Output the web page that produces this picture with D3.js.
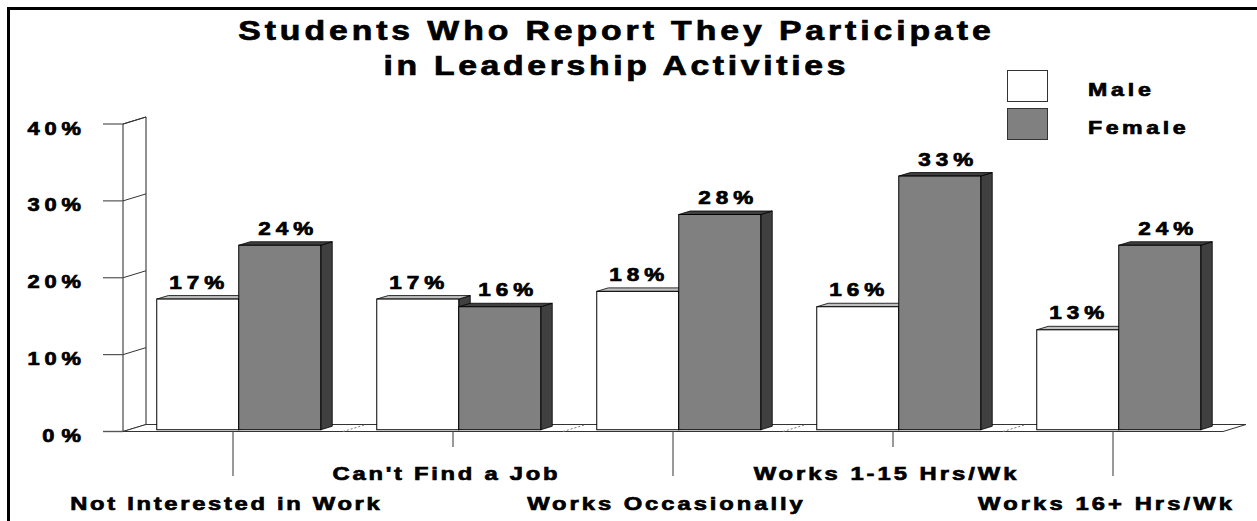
<!DOCTYPE html>
<html>
<head>
<meta charset="utf-8">
<script src="https://cdn.jsdelivr.net/npm/d3@7"></script>
<style>
  body { margin: 0; background: #fff; }
  svg text { font-family: "Liberation Sans", Arial, sans-serif; font-weight: bold; fill: #000; stroke: #000; stroke-width: 0.7; }
</style>
</head>
<body>
<svg id="chart" width="1257" height="521"></svg>
<script>
// data
var categories = ["Not Interested in Work", "Can't Find a Job", "Works Occasionally", "Works 1-15 Hrs/Wk", "Works 16+ Hrs/Wk"];
var series = ["Male", "Female"];
var maleValues = [17, 17, 18, 16, 13];
var femaleValues = [24, 16, 28, 33, 24];
var yTicks = [0, 10, 20, 30, 40];
var titleLines = ["Students Who Report They Participate", "in Leadership Activities"];

var svg = d3.select("#chart");
// text in the original is both wide and loosely spaced
var SX = 1.25, SPREAD = 1.53 / 1.25;

var y = d3.scaleLinear().domain([0, 40]).range([431.5, 124]);
var x0 = d3.scaleBand().domain(categories).range([123, 1223]);
var x1 = d3.scaleBand().domain(series).range([28, 192]);

// wall depth and bar depth
var DX = 23, DY = -7;
var bx = DX * 0.25, by = DY * 0.25, bdx = DX * 0.5, bdy = DY * 0.5;

function spaced(g, x, yy, str, size, anchor) {
    var t = g.append("text")
        .attr("transform", "translate(" + x + "," + yy + ") scale(" + SX + ",1)")
        .attr("text-anchor", anchor || "start")
        .style("font-size", size + "px")
        .text(str);
    var w = t.node().getComputedTextLength();
    t.attr("textLength", w * SPREAD).attr("lengthAdjust", "spacing");
    return t;
}

// frame (only top and left edges are inside the picture)
svg.append("path")
    .attr("d", "M8.5,530 L8.5,8.5 L1270,8.5")
    .attr("fill", "none").attr("stroke", "#000").attr("stroke-width", 3);

// title
titleLines.forEach(function(t, i) {
    spaced(svg, 614.5, [39.5, 75][i], t, 27, "middle");
});

// left wall
var wall = svg.append("g");
wall.append("path")
    .attr("d", "M" + x0.range()[0] + "," + y(0) + " L" + x0.range()[0] + "," + y(40) +
        " L" + (x0.range()[0] + DX) + "," + (y(40) + DY) + " L" + (x0.range()[0] + DX) + "," + (y(0) + DY))
    .attr("fill", "#fff").attr("stroke", "#222").attr("stroke-width", 1);
yTicks.forEach(function(t) {
    wall.append("line")
        .attr("x1", 103).attr("x2", x0.range()[0])
        .attr("y1", y(t)).attr("y2", y(t))
        .attr("stroke", "#555").attr("stroke-width", 1.2);
    wall.append("line")
        .attr("x1", x0.range()[0]).attr("x2", x0.range()[0] + DX)
        .attr("y1", y(t)).attr("y2", y(t) + DY)
        .attr("stroke", "#333").attr("stroke-width", 1);
    spaced(wall, 81, y(t) + 10.5, t + "%", 17.5, "end");
});

// floor
var floor = svg.append("g");
var fx0 = x0.range()[0], fx1 = x0.range()[1];
floor.append("path")
    .attr("d", "M" + fx0 + "," + y(0) + " L" + fx1 + "," + y(0) + " L" + (fx1 + DX) + "," + (y(0) + DY) +
        " L" + (fx0 + DX) + "," + (y(0) + DY) + "Z")
    .attr("fill", "#fff").attr("stroke", "#333").attr("stroke-width", 1);
floor.append("line")
    .attr("x1", 103).attr("x2", fx0).attr("y1", y(0)).attr("y2", y(0))
    .attr("stroke", "#555").attr("stroke-width", 1.2);
categories.slice(1).forEach(function(c) {
    var b = x0(c);
    floor.append("line")
        .attr("x1", b).attr("y1", y(0)).attr("x2", b + DX).attr("y2", y(0) + DY)
        .attr("stroke", "#777").attr("stroke-width", 1).attr("stroke-dasharray", "2,2");
});

// category ticks and labels
categories.forEach(function(c, i) {
    var cx = x0(c) + x0.bandwidth() / 2;
    var low = i % 2 === 0;
    svg.append("line")
        .attr("x1", cx).attr("x2", cx)
        .attr("y1", y(0)).attr("y2", low ? 476 : 447)
        .attr("stroke", "#555").attr("stroke-width", 1.2);
    spaced(svg, cx - 8, low ? 510 : 480, c, 19, "middle");
});

// bars
var colors = {
    Male: { front: "#ffffff", top: "#c0c0c0", side: "#404040" },
    Female: { front: "#808080", top: "#404040", side: "#404040" }
};
var labelShift = { Male: -1, Female: 6 };
var bars = [];
categories.forEach(function(c, i) {
    bars.push({ cat: c, s: "Male", v: maleValues[i] });
    bars.push({ cat: c, s: "Female", v: femaleValues[i] });
});

var bg = svg.append("g");
bars.forEach(function(d) {
    var xl = x0(d.cat) + x1(d.s) + bx;
    var xr = xl + x1.bandwidth();
    var yt = y(d.v) + by;
    var yb = y(0) + by;
    var col = colors[d.s];
    var g = bg.append("g");
    // side
    g.append("path")
        .attr("d", "M" + xr + "," + yb + " L" + xr + "," + yt + " L" + (xr + bdx) + "," + (yt + bdy) +
            " L" + (xr + bdx) + "," + (yb + bdy) + "Z")
        .attr("fill", col.side).attr("stroke", "#000").attr("stroke-width", 0.8);
    // top
    g.append("path")
        .attr("d", "M" + xl + "," + yt + " L" + (xl + bdx) + "," + (yt + bdy) + " L" + (xr + bdx) + "," + (yt + bdy) +
            " L" + xr + "," + yt + "Z")
        .attr("fill", col.top).attr("stroke", "#000").attr("stroke-width", 0.8);
    // front
    g.append("rect")
        .attr("x", xl).attr("y", yt)
        .attr("width", x1.bandwidth()).attr("height", yb - yt)
        .attr("fill", col.front).attr("stroke", "#000").attr("stroke-width", 1);
});
bars.forEach(function(d) {
    var cx = x0(d.cat) + x1(d.s) + bx + x1.bandwidth() / 2 + labelShift[d.s];
    spaced(svg, cx, y(d.v) + by - 10.5, d.v + "%", 18, "middle");
});

// legend
var legend = svg.append("g");
series.forEach(function(s, i) {
    legend.append("rect")
        .attr("x", 1007.5).attr("y", 70.5 + i * 38)
        .attr("width", 40).attr("height", 31)
        .attr("fill", colors[s].front).attr("stroke", "#333").attr("stroke-width", 1);
    spaced(legend, 1088, 96 + i * 38, s, 18.5, "start");
});
</script>
</body>
</html>
